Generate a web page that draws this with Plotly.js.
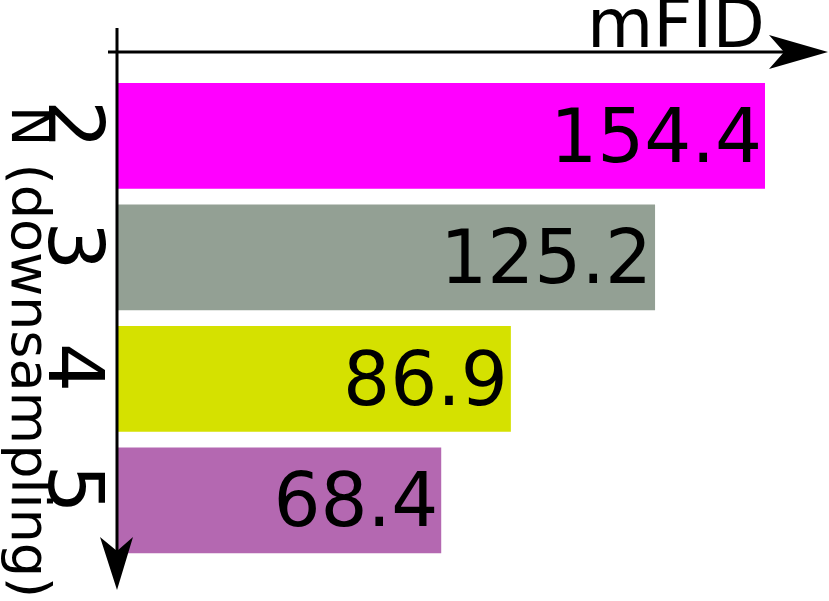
<!DOCTYPE html>
<html>
<head>
<meta charset="utf-8">
<script src="https://cdn.plot.ly/plotly-3.0.1.min.js"></script>
<style>
  html, body { margin: 0; padding: 0; background: #fff; }
  #plot { width: 829px; height: 601px; }
</style>
</head>
<body>
<div id="plot"></div>
<script>
// Data
const downsampling = ['2', '3', '4', '5'];
const mfid = [154.4, 125.2, 86.9, 68.4];
const barColors = ['#ff00ff', '#93a094', '#d5e100', '#b468b1'];

// axis does not start at zero in the original drawing
const xMin = -17.45;
const xMax = 171.4;

// plot area in pixels
const W = 829, H = 601;
const M = { l: 118, r: 0, t: 52, b: 11 };
const px = x => (x - M.l) / (W - M.l - M.r);
const py = y => (H - M.b - y) / (H - M.t - M.b);

const font = 'DejaVu Sans, sans-serif';

const trace = {
    type: 'bar',
    orientation: 'h',
    y: downsampling,
    x: mfid.map(v => v - xMin),
    base: xMin,
    width: 0.87,
    text: mfid.map(v => v.toFixed(1)),
    textposition: 'inside',
    insidetextanchor: 'end',
    constraintext: 'none',
    textfont: { family: font, size: 74, color: '#000' },
    marker: { color: barColors, line: { width: 0 } },
    hoverinfo: 'skip'
};

// arrows for both axes
const shapes = [
    {   // x axis line
        type: 'line', xref: 'paper', yref: 'paper', layer: 'above',
        x0: px(108), x1: px(790), y0: py(52), y1: py(52),
        line: { color: '#000', width: 3 }
    },
    {   // x arrow head
        type: 'path', xref: 'paper', yref: 'paper', layer: 'above',
        path: `M ${px(828)},${py(52)} L ${px(769)},${py(35)} L ${px(784)},${py(52)} L ${px(769)},${py(69)} Z`,
        fillcolor: '#000', line: { width: 0 }
    },
    {   // y axis line
        type: 'line', xref: 'paper', yref: 'paper', layer: 'above',
        x0: px(117), x1: px(117), y0: py(28), y1: py(552),
        line: { color: '#000', width: 3 }
    },
    {   // y arrow head
        type: 'path', xref: 'paper', yref: 'paper', layer: 'above',
        path: `M ${px(117)},${py(590)} L ${px(100)},${py(537)} L ${px(117)},${py(551)} L ${px(133)},${py(537)} Z`,
        fillcolor: '#000', line: { width: 0 }
    }
];

const layout = {
    width: W,
    height: H,
    margin: { l: M.l, r: M.r, t: M.t, b: M.b, pad: 0 },
    paper_bgcolor: '#fff',
    plot_bgcolor: '#fff',
    showlegend: false,
    font: { family: font, color: '#000' },
    xaxis: {
        range: [xMin, xMax],
        showgrid: false,
        zeroline: false,
        showline: false,
        showticklabels: false,
        ticks: ''
    },
    yaxis: {
        type: 'category',
        range: [3.737, -0.691],
        anchor: 'free',
        position: px(126),   // nudges the tick labels toward the axis line
        showgrid: false,
        zeroline: false,
        showline: false,
        ticks: '',
        tickangle: 90,
        tickfont: { family: font, size: 77, color: '#000' }
    },
    shapes: shapes,
    annotations: [
        {
            text: 'mFID',
            xref: 'paper', yref: 'paper',
            x: px(767), y: py(65),
            xanchor: 'right', yanchor: 'bottom',
            showarrow: false,
            font: { family: font, size: 68, color: '#000' }
        },
        {
            text: 'N (downsampling)',
            xref: 'paper', yref: 'paper',
            x: px(31), y: py(352),
            xanchor: 'center', yanchor: 'middle',
            textangle: 90,
            showarrow: false,
            font: { family: font, size: 54, color: '#000' }
        }
    ]
};

const config = {
    displayModeBar: false,
    staticPlot: true
};

Plotly.newPlot('plot', [trace], layout, config);
</script>
</body>
</html>
